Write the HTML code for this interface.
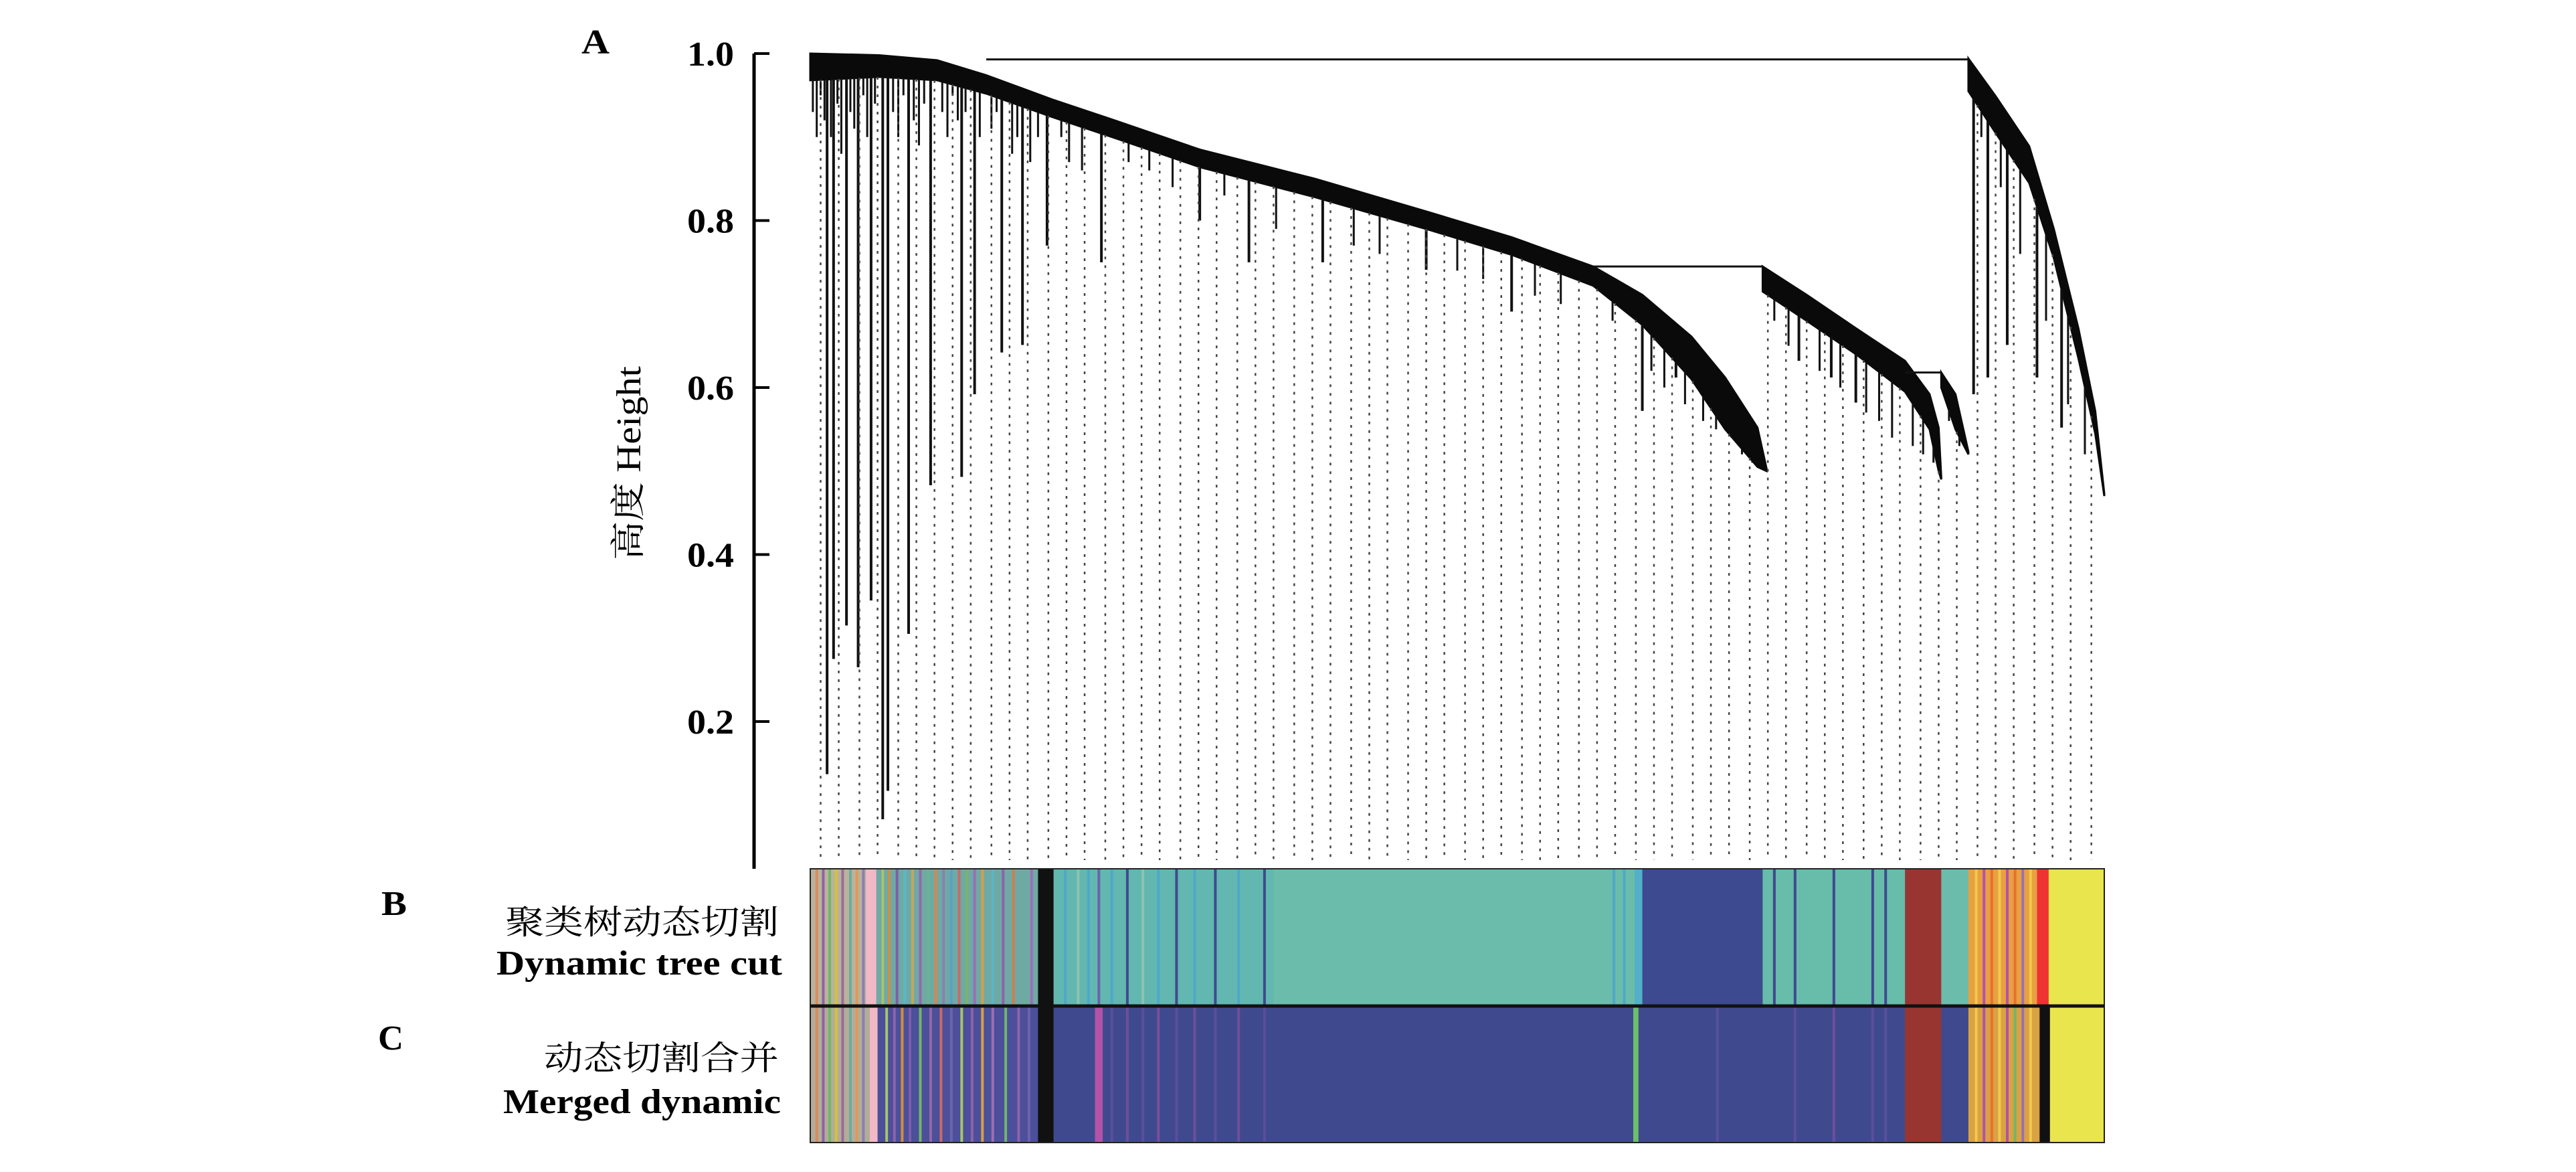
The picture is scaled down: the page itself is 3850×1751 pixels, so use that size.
<!DOCTYPE html>
<html><head><meta charset="utf-8"><style>
html,body{margin:0;padding:0;background:#fff;}
svg{display:block;}
</style></head><body>
<svg id="chart" width="3850" height="1751" viewBox="0 0 3850 1751" xmlns="http://www.w3.org/2000/svg" font-family="'Liberation Serif','Noto Serif CJK SC',serif">
<rect x="0" y="0" width="3850" height="1751" fill="#fff"/>
<g id="dendro"></g>
<g id="dots"></g>
<g id="bands"></g>
<g id="axis"></g>
<text x="869" y="80" font-size="52" font-weight="bold" textLength="42" lengthAdjust="spacingAndGlyphs">A</text>
<text x="570" y="1367" font-size="52" font-weight="bold" textLength="38" lengthAdjust="spacingAndGlyphs">B</text>
<text x="565" y="1568" font-size="52" font-weight="bold" textLength="38" lengthAdjust="spacingAndGlyphs">C</text>
<text transform="translate(957,692) rotate(-90)" text-anchor="middle" font-size="52" textLength="290" lengthAdjust="spacingAndGlyphs" font-family="'Liberation Serif','Noto Serif CJK SC',serif">高度 Height</text>
<text x="755" y="1395" font-size="50" textLength="409" lengthAdjust="spacingAndGlyphs" font-family="'Noto Serif CJK SC',serif">聚类树动态切割</text>
<text x="742" y="1456" font-size="52" font-weight="bold" textLength="427" lengthAdjust="spacingAndGlyphs">Dynamic tree cut</text>
<text x="813" y="1598" font-size="50" textLength="351" lengthAdjust="spacingAndGlyphs" font-family="'Noto Serif CJK SC',serif">动态切割合并</text>
<text x="752" y="1663" font-size="52" font-weight="bold" textLength="415" lengthAdjust="spacingAndGlyphs">Merged dynamic</text>
</svg>
<script>
// ---- data ----
const yTicks = [1.0, 0.8, 0.6, 0.4, 0.2];
const yTickLabels = ["1.0", "0.8", "0.6", "0.4", "0.2"];
const sub1Idx = [0, 53, 98, 136, 187, 237, 301, 390, 478, 542, 605, 643, 681, 707, 732, 739];
const sub1Top = [1.0, 0.998, 0.992, 0.974, 0.945, 0.919, 0.885, 0.85, 0.81, 0.78, 0.745, 0.711, 0.661, 0.612, 0.552, 0.503];
const sub1Low = [0.968, 0.972, 0.968, 0.952, 0.924, 0.898, 0.864, 0.828, 0.789, 0.759, 0.722, 0.675, 0.61, 0.55, 0.505, 0.5];
const sub2Idx = [736, 770, 808, 846, 865, 872, 874];
const sub2Top = [0.745, 0.711, 0.671, 0.632, 0.592, 0.552, 0.493];
const sub2Low = [0.715, 0.68, 0.64, 0.595, 0.55, 0.5, 0.49];
const sub3Idx = [874, 885, 895];
const sub3Top = [0.618, 0.592, 0.523];
const sub3Low = [0.6, 0.55, 0.52];
const sub4Idx = [895, 916, 942, 961, 980, 993, 1000];
const sub4Top = [0.994, 0.949, 0.889, 0.79, 0.671, 0.572, 0.473];
const sub4Low = [0.955, 0.905, 0.845, 0.755, 0.635, 0.545, 0.47];
const mergeFrom = [136, 605, 846];
const mergeTo = [895, 736, 874];
const mergeH = [0.993, 0.745, 0.618];
const spikeIdx = [13, 18, 28, 37, 47, 56, 60, 76, 93, 117, 127, 148, 164, 183, 225, 301, 339, 396, 476, 542, 643, 669, 764, 789, 808, 899, 910, 925, 948, 967];
const spikeLow = [0.137, 0.275, 0.315, 0.265, 0.345, 0.083, 0.117, 0.305, 0.483, 0.493, 0.592, 0.642, 0.651, 0.77, 0.75, 0.8, 0.75, 0.75, 0.741, 0.691, 0.572, 0.612, 0.632, 0.612, 0.582, 0.592, 0.612, 0.651, 0.612, 0.552];
// short hairline branches under the main bands
const hairIdx = [2,5,8,11,16,21,24,31,34,41,44,50,64,68,72,80,84,88,102,106,110,114,120,131,140,144,156,160,170,176,194,200,210,246,262,280,320,360,420,440,500,520,560,580,620,650,660,676,690,700,712,720,728,745,756,780,796,816,826,836,852,860,868,880,888,905,920,935,955,972,985];
const hairLow = [0.93,0.9,0.95,0.92,0.9,0.94,0.88,0.93,0.91,0.95,0.9,0.94,0.93,0.9,0.95,0.92,0.89,0.94,0.93,0.9,0.95,0.92,0.93,0.9,0.91,0.93,0.88,0.9,0.87,0.9,0.9,0.87,0.86,0.87,0.86,0.84,0.83,0.79,0.77,0.76,0.74,0.73,0.71,0.7,0.68,0.62,0.6,0.58,0.56,0.55,0.54,0.52,0.51,0.68,0.65,0.62,0.6,0.57,0.56,0.54,0.53,0.52,0.51,0.56,0.53,0.9,0.84,0.76,0.68,0.58,0.52];
const dotIdx = [8,22,38,52,68,82,96,110,124,140,154,168,184,198,212,228,242,256,270,286,300,314,330,344,358,374,388,402,418,432,446,462,476,490,506,520,534,550,564,578,594,608,622,638,652,666,682,696,710,726,740,754,770,784,798,814,828,842,858,872,886,902,916,930,946,960,974,990];
const bandBStart = [0,43,51,176,188,358,637,643,736,846,874,895,948,957];
const bandBEnd   = [43,51,176,188,358,637,643,736,846,874,895,948,957,1000];
const bandBColor = ["#b9b39c","#f2b8c6","#6fa9a6","#111111","#62b7b0","#6cbcab","#52b0c8","#3e4a8f","#67bcaa","#983530","#6cbcab","#e7a042","#ee3333","#e9e54d"];
const bandCStart = [0,46,52,176,188,220,226,636,640,846,874,895,950,958];
const bandCEnd   = [46,52,176,188,220,226,636,640,846,874,895,950,958,1000];
const bandCColor = ["#b2ad98","#f2b8c6","#4c4f9a","#111111","#3f4a8e","#b352a8","#3f4a8e","#6cc06a","#3f4a8e","#983530","#3f4a8e","#d9a244","#111111","#e9e54d"];
const stripeBIdx = [4,9,14,19,24,30,35,40,55,60,66,72,78,84,90,96,102,108,114,120,126,132,140,148,156,164,170,196,206,214,222,232,244,256,268,282,296,312,330,350,620,628,744,760,790,820,830,900,906,912,918,924,930,936,942];
const stripeBColor = ["#d98c5f","#8e63a8","#73b56a","#d3c23f","#9c6b9c","#6dab9f","#e0985a","#8a7fb5","#a8c46a","#d08f3e","#7d5ea6","#5bb7c4","#c4a85a","#9369a8","#69b48f","#d7874f","#8a7fb5","#5b9fc4","#c86a6a","#7bb36a","#9a6fb5","#d3a048","#5bb7c4","#8e63a8","#d07e4e","#6dab9f","#9a6fb5","#4fa8c8","#8fc2b0","#4fa8c8","#6d63a8","#4fa8c8","#3f4a8e","#8fc2b0","#4fa8c8","#3f4a8e","#4fa8c8","#3f4a8e","#4fa8c8","#3f4a8e","#4fa8c8","#4fa8c8","#3f4a8e","#3f4a8e","#3f4a8e","#3f4a8e","#3f4a8e","#f2c94c","#b352a8","#e96f2e","#f2c94c","#b352a8","#e96f2e","#9a6fb5","#f2c94c"];
const stripeCIdx = [4,9,14,19,24,30,35,40,58,64,70,76,84,92,100,108,116,124,132,140,150,160,168,232,244,256,268,282,296,312,330,350,700,760,790,820,830,900,906,912,918,924,930,936,942];
const stripeCColor = ["#d98c5f","#8e63a8","#73b56a","#d3c23f","#9c6b9c","#6dab9f","#e0985a","#8a7fb5","#a8c46a","#8e63a8","#d08f3e","#7d5ea6","#73b56a","#9369a8","#c86a6a","#6d63a8","#a8c46a","#8e63a8","#d3a048","#9a6fb5","#73b56a","#8e63a8","#6d63a8","#5a4f9a","#6d4f9a","#5a4f9a","#7a4f9a","#5a4f9a","#6d4f9a","#5a4f9a","#6d4f9a","#5a4f9a","#5a4f9a","#5a4f9a","#6d4f9a","#5a4f9a","#5a4f9a","#f2c94c","#b352a8","#e96f2e","#f2c94c","#b352a8","#73b56a","#9a6fb5","#f2c94c"];

// ---- scales ----
const X0 = 1211, X1 = 3145;
function xS(i){ return X0 + i*(X1-X0)/1000; }
function yS(h){ return 80 + (1-h)*1247.5; }
const NS = "http://www.w3.org/2000/svg";
function mk(tag, attrs, parent){ const e=document.createElementNS(NS,tag); for(const k in attrs) e.setAttribute(k, attrs[k]); parent.appendChild(e); return e; }
const dendro = document.getElementById('dendro');
const dots = document.getElementById('dots');
const bands = document.getElementById('bands');
const axis = document.getElementById('axis');

// ---- axis ----
const al = mk('line',{x1:1127,y1:yS(1.0),x2:1127,y2:1298,stroke:'#000','stroke-width':5},axis);


yTicks.forEach((t,i)=>{
  const tk = mk('line',{x1:1127,y1:yS(t),x2:1150,y2:yS(t),stroke:'#000','stroke-width':4},axis);
  
  
  const tl = mk('text',{x:1097,y:yS(t)+18,'text-anchor':'end','font-size':52,'font-weight':'bold',textLength:70,lengthAdjust:'spacingAndGlyphs'},axis);
  tl.textContent = yTickLabels[i];
  
  
});

// ---- dendrogram ----
const subs = [[sub1Idx,sub1Top,sub1Low],[sub2Idx,sub2Top,sub2Low],[sub3Idx,sub3Top,sub3Low],[sub4Idx,sub4Top,sub4Low]];
function interp(xs, ys, v){
  if(v<=xs[0]) return ys[0];
  for(let k=1;k<xs.length;k++){ if(v<=xs[k]){ const f=(v-xs[k-1])/(xs[k]-xs[k-1]); return ys[k-1]+f*(ys[k]-ys[k-1]); } }
  return ys[ys.length-1];
}
function findSub(i){ for(let j=subs.length-1;j>=0;j--){ const s=subs[j]; if(i>=s[0][0] && i<=s[0][s[0].length-1]) return s; } return subs[0]; }
subs.forEach(s=>{
  let pts = s[0].map((v,k)=>xS(v)+','+yS(s[1][k]));
  for(let k=s[0].length-1;k>=0;k--) pts.push(xS(s[0][k])+','+yS(s[2][k]));
  const p = mk('polygon',{points:pts.join(' '),fill:'#0a0a0a',stroke:'#0a0a0a','stroke-width':3},dendro);
  
  
});
mergeFrom.forEach((f,i)=>{
  const l = mk('line',{x1:xS(f),y1:yS(mergeH[i]),x2:xS(mergeTo[i]),y2:yS(mergeH[i]),stroke:'#111','stroke-width':3},dendro);
  
  
});
hairIdx.forEach((s,i)=>{
  const sub = findSub(s);
  const top = interp(sub[0], sub[2], s);
  const l = mk('line',{x1:xS(s),y1:yS(top),x2:xS(s),y2:yS(hairLow[i]),stroke:'#111','stroke-width':3},dendro);
  
  
});
spikeIdx.forEach((s,i)=>{
  const sub = findSub(s);
  const top = interp(sub[0], sub[2], s);
  const l = mk('line',{x1:xS(s),y1:yS(top),x2:xS(s),y2:yS(spikeLow[i]),stroke:'#111','stroke-width':4},dendro);
  
  
});
dotIdx.forEach(d=>{
  const sub = findSub(d);
  const top = interp(sub[0], sub[2], d);
  const l = mk('line',{x1:xS(d),y1:yS(top),x2:xS(d),y2:1285,stroke:'#444','stroke-width':2.5,'stroke-dasharray':'4 9'},dots);
  
  
});

// ---- colour bands ----
const BT=1298, BM=1503, BB=1707;
function drawRow(starts, ends, cols, sIdx, sCol, y0, y1, name){
  starts.forEach((s,i)=>{
    const r = mk('rect',{x:xS(s),y:y0,width:xS(ends[i])-xS(s)+0.5,height:y1-y0,fill:cols[i]},bands);
    
    
  });
  sIdx.forEach((s,i)=>{
    const r = mk('rect',{x:xS(s),y:y0,width:4,height:y1-y0,fill:sCol[i]},bands);
    
    
  });
}
drawRow(bandBStart,bandBEnd,bandBColor,stripeBIdx,stripeBColor,BT,BM,'dynamic-tree-cut');
drawRow(bandCStart,bandCEnd,bandCColor,stripeCIdx,stripeCColor,BM,BB,'merged-dynamic');
const fr = mk('rect',{x:X0,y:BT,width:X1-X0,height:BB-BT,fill:'none',stroke:'#222','stroke-width':2},bands);


const mid = mk('line',{x1:X0,y1:BM,x2:X1,y2:BM,stroke:'#111','stroke-width':5},bands);


</script>
</body></html>
